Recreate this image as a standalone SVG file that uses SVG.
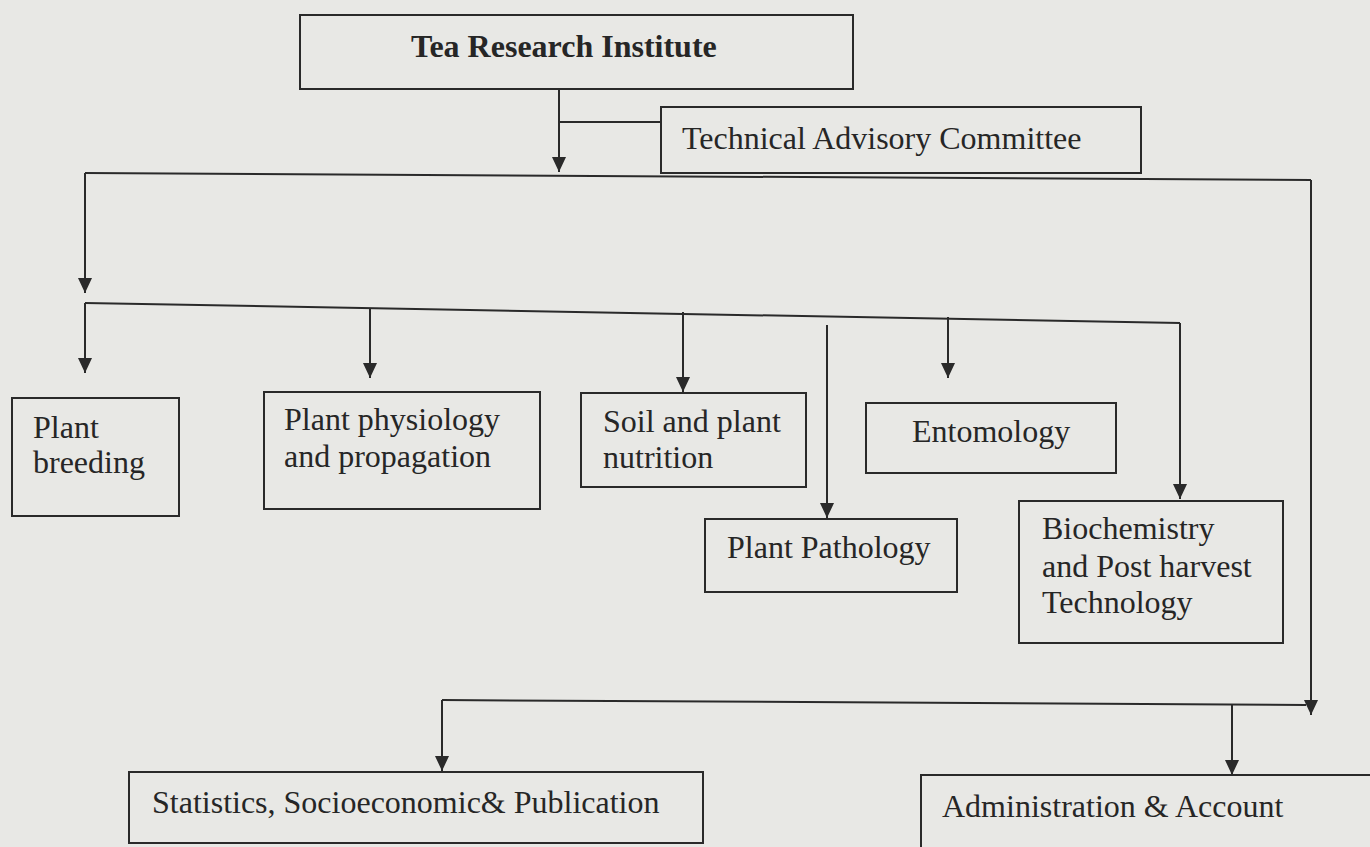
<svg xmlns="http://www.w3.org/2000/svg" width="1370" height="847" viewBox="0 0 1370 847">
<style>
.box{fill:none;stroke:#2a2a2a;stroke-width:2}
.t{font-family:"Liberation Serif","Times New Roman",serif;font-size:32px;fill:#262626}
.b{font-weight:bold}
.c{fill:none;stroke:#2a2a2a;stroke-width:2}
</style>
<defs>
<marker id="ar" markerUnits="userSpaceOnUse" markerWidth="16" markerHeight="16" refX="15" refY="7" orient="auto">
<path d="M0,0 L15,7 L0,14 Z" fill="#2a2a2a"/>
</marker>
</defs>
<rect width="1370" height="847" fill="#e8e8e5"/>
<g id="connectors">
<path class="c" d="M559,89 V172" marker-end="url(#ar)"/>
<path class="c" d="M559,122 H661"/>
<path class="c" d="M85,173 L1311,180"/>
<path class="c" d="M85,173 V293" marker-end="url(#ar)"/>
<path class="c" d="M1311,180 V715" marker-end="url(#ar)"/>
<path class="c" d="M85,303 L1180,323"/>
<path class="c" d="M85,303 V373" marker-end="url(#ar)"/>
<path class="c" d="M370,308 V378" marker-end="url(#ar)"/>
<path class="c" d="M683,312 V392" marker-end="url(#ar)"/>
<path class="c" d="M827,325 V518" marker-end="url(#ar)"/>
<path class="c" d="M948,317 V378" marker-end="url(#ar)"/>
<path class="c" d="M1180,323 V499" marker-end="url(#ar)"/>
<path class="c" d="M442,700 L1306,705"/>
<path class="c" d="M442,700 V771" marker-end="url(#ar)"/>
<path class="c" d="M1232,705 V775" marker-end="url(#ar)"/>
</g>
<g id="tri"><rect class="box" x="300" y="15" width="553" height="74"/><text class="t b" x="411" y="57">Tea Research Institute</text></g>
<g id="tac"><rect class="box" x="661" y="107" width="480" height="66"/><text class="t" x="682" y="149">Technical Advisory Committee</text></g>
<g id="breeding"><rect class="box" x="12" y="398" width="167" height="118"/><text class="t" x="33" y="438">Plant</text><text class="t" x="33" y="473">breeding</text></g>
<g id="physiology"><rect class="box" x="264" y="392" width="276" height="117"/><text class="t" x="284" y="430">Plant physiology</text><text class="t" x="284" y="467">and propagation</text></g>
<g id="soil"><rect class="box" x="581" y="393" width="225" height="94"/><text class="t" x="603" y="432">Soil and plant</text><text class="t" x="603" y="468">nutrition</text></g>
<g id="entomology"><rect class="box" x="866" y="403" width="250" height="70"/><text class="t" x="912" y="442">Entomology</text></g>
<g id="pathology"><rect class="box" x="705" y="519" width="252" height="73"/><text class="t" x="727" y="558">Plant Pathology</text></g>
<g id="biochem"><rect class="box" x="1019" y="501" width="264" height="142"/><text class="t" x="1042" y="539">Biochemistry</text><text class="t" x="1042" y="577">and Post harvest</text><text class="t" x="1042" y="613">Technology</text></g>
<g id="statistics"><rect class="box" x="129" y="772" width="574" height="71"/><text class="t" x="152" y="813">Statistics, Socioeconomic&amp; Publication</text></g>
<g id="admin"><rect class="box" x="921" y="775" width="460" height="74"/><text class="t" x="942" y="817">Administration &amp; Account</text></g>
</svg>
